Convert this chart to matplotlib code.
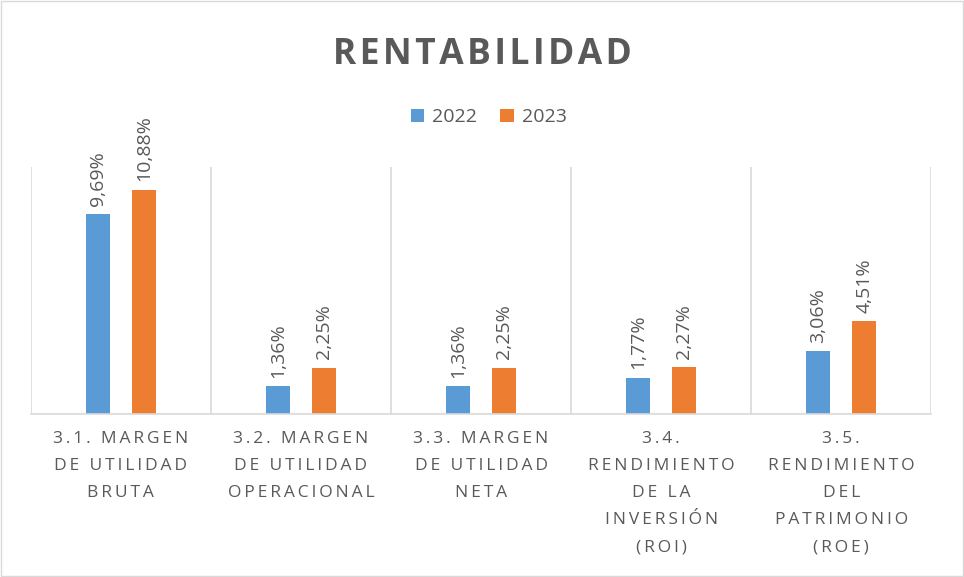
import matplotlib.pyplot as plt
import numpy as np

# data
categorias = ["3.1. MARGEN\nDE UTILIDAD\nBRUTA",
              "3.2. MARGEN\nDE UTILIDAD\nOPERACIONAL",
              "3.3. MARGEN\nDE UTILIDAD\nNETA",
              "3.4.\nRENDIMIENTO\nDE LA\nINVERSIÓN\n(ROI)",
              "3.5.\nRENDIMIENTO\nDEL\nPATRIMONIO\n(ROE)"]
v2022 = [9.69, 1.36, 1.36, 1.77, 3.06]
v2023 = [10.88, 2.25, 2.25, 2.27, 4.51]
series = ["2022", "2023"]

BLUE = "#5b9bd5"
ORANGE = "#ed7d31"
GRAY = "#595959"
GRID = "#d9d9d9"

plt.rcParams['font.family'] = ['Open Sans', 'DejaVu Sans']


def spaced(s, sp="\u2009"):
    # fake letter spacing with thin spaces
    lines = s.split("\n")
    return "\n".join(sp.join(ln) for ln in lines)


fig = plt.figure(figsize=(9.64, 5.77), dpi=100)
ax = fig.add_axes([0.032, 0.2825, 0.934, 0.4285])

x = np.arange(len(categorias))
w = 0.133
off = 0.128
b1 = ax.bar(x - off, v2022, w, color=BLUE, label=series[0])
b2 = ax.bar(x + off, v2023, w, color=ORANGE, label=series[1])

for bars, vals in [(b1, v2022), (b2, v2023)]:
    for b, v in zip(bars, vals):
        ax.annotate(("%.2f%%" % v).replace(".", ","),
                    (b.get_x() + b.get_width() / 2, b.get_height()),
                    xytext=(0, 6), textcoords="offset points",
                    rotation=90, ha="center", va="bottom",
                    fontsize=14, color=GRAY)

ax.set_xlim(-0.5, len(categorias) - 0.5)
ax.set_ylim(0, 12)
ax.set_yticks([])
ax.set_xticks(x)
ax.set_xticklabels([spaced(c) for c in categorias], fontsize=12.5,
                   color=GRAY, linespacing=1.93)
ax.tick_params(axis="x", length=0, pad=12)

# separators between categories
for b in np.arange(-0.5, len(categorias), 1.0):
    ax.axvline(b, color=GRID, lw=1.2, zorder=0)
for s in ["top", "left", "right"]:
    ax.spines[s].set_visible(False)
ax.spines["bottom"].set_color(GRID)
ax.spines["bottom"].set_linewidth(1.2)

fig.text(0.5, 0.905, spaced("RENTABILIDAD", "\u200a"), ha="center",
         va="center", fontsize=25.5, fontweight="bold", color=GRAY)

leg = fig.legend(loc="center", bbox_to_anchor=(0.507, 0.797), ncol=2,
                 frameon=False, fontsize=14, handlelength=0.7,
                 handleheight=0.7, handletextpad=0.4, columnspacing=1.2)
for t in leg.get_texts():
    t.set_color(GRAY)

# chart border
fig.patches.append(plt.Rectangle((0.001, 0.001), 0.998, 0.998,
                                 transform=fig.transFigure, fill=False,
                                 edgecolor=GRID, lw=1))

fig.savefig("out.png", dpi=100)
